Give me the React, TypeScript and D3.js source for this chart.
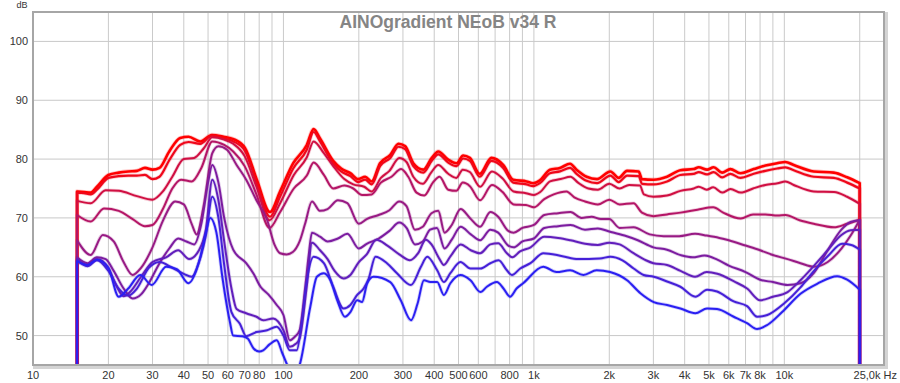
import React from "react";
import * as d3 from "d3";

const W = 900;
const H = 383;

const title = "AINOgradient NEoB v34 R";
const yUnit = "dB";
const xEndLabel = "25,0k Hz";

const yTicks = [50, 60, 70, 80, 90, 100];
const xTickFreqs = [10, 20, 30, 40, 50, 60, 70, 80, 100, 200, 300, 400, 500, 600, 800, 1000, 2000, 3000, 4000, 5000, 6000, 7000, 8000, 10000];
const xTickLabels = ["10", "20", "30", "40", "50", "60", "70", "80", "100", "200", "300", "400", "500", "600", "800", "1k", "2k", "3k", "4k", "5k", "6k", "7k", "8k", "10k"];
const xGridFreqs = [20, 30, 40, 50, 60, 70, 80, 90, 100, 200, 300, 400, 500, 600, 700, 800, 900, 1000, 2000, 3000, 4000, 5000, 6000, 7000, 8000, 9000, 10000, 20000];

const c1: [number, number][] = [[15,74.5],[16,74.4],[17,74.3],[18,75.3],[20,77.3],[22,77.7],[24,77.9],[26,78.0],[28,78.5],[30,78.2],[32,78.5],[35,81.3],[38.7,83.6],[41.8,83.8],[46.5,83.0],[51.8,84.1],[57.7,83.8],[63.2,83.4],[70.2,81.9],[78.3,76.5],[88.4,71.0],[96.9,74.5],[109.4,79.3],[123.9,82.4],[132,85.1],[140,83.5],[158,79.7],[170,78.4],[185,77.6],[199,76.6],[212,77.0],[225,76.2],[243,79.3],[267,80.7],[288,82.6],[306,82.2],[330,79.3],[362,78.2],[391,80.2],[415,81.3],[455,79.9],[491,79.3],[522,80.6],[555,80.2],[608,77.5],[677,80.2],[754,79.0],[827,76.5],[935,76.2],[994,75.9],[1057,76.4],[1159,78.2],[1271,78.5],[1394,79.2],[1480,78.2],[1623,77.0],[1787,76.6],[2020,77.9],[2180,76.8],[2355,78.0],[2620,77.9],[2703,76.6],[3009,76.5],[3402,77.0],[3845,78.1],[4346,78.3],[4550,78.6],[4915,78.2],[5223,78.6],[5642,77.7],[6088,78.3],[6676,77.6],[7547,78.3],[8405,78.9],[9359,79.3],[10102,79.5],[10904,79.0],[13108,77.9],[15757,77.7],[17818,76.9],[20000,75.9]];

const c2: [number, number][] = [[15,74.3],[16,74.2],[17,74.0],[18,74.8],[20,76.8],[22,77.1],[24,77.2],[26,77.2],[28,77.3],[30,76.6],[32,77.0],[35,79.8],[38.7,82.4],[41.8,82.9],[46.5,82.6],[51.8,84.0],[57.7,83.5],[63.2,83.0],[70.2,81.4],[78.3,75.8],[88.4,70.2],[96.9,73.6],[109.4,78.4],[123.9,81.6],[132,84.6],[140,83.0],[158,79.2],[170,77.9],[185,77.1],[199,76.1],[212,76.5],[225,75.7],[243,78.8],[267,80.2],[288,82.1],[306,81.7],[330,78.8],[362,77.7],[391,79.7],[415,80.8],[455,79.4],[491,78.8],[522,80.1],[555,79.7],[608,77.0],[677,79.7],[754,78.5],[827,76.0],[935,75.7],[994,75.4],[1057,75.9],[1159,77.6],[1271,77.9],[1394,78.5],[1480,77.5],[1623,76.3],[1787,75.9],[2020,77.2],[2180,76.1],[2355,77.2],[2620,77.1],[2703,75.8],[3009,75.7],[3402,76.2],[3845,77.3],[4346,77.5],[4550,77.8],[4915,77.4],[5223,77.8],[5642,76.9],[6088,77.5],[6676,76.8],[7547,77.5],[8405,78.0],[9359,78.4],[10102,78.6],[10904,78.1],[13108,77.0],[15757,76.8],[17818,76.0],[20000,75.0]];

const c3: [number, number][] = [[15,72.9],[17,72.5],[19.5,74.7],[22,74.6],[26,73.7],[30,73.1],[33,74.5],[36,77.0],[40,80.0],[44,80.2],[48,81.8],[52,83.7],[58,83.3],[63,82.6],[70,80.5],[78,75.3],[88,69.6],[97,72.5],[110,77.3],[124,80.3],[132,83.0],[145,81.0],[158,78.8],[175,76.6],[190,75.7],[210,75.3],[225,74.5],[245,76.8],[265,78.0],[290,80.2],[310,79.5],[330,77.0],[360,75.8],[390,77.8],[415,79.0],[455,77.5],[490,76.8],[520,78.2],[555,77.8],[610,75.3],[680,77.9],[750,76.7],[830,74.5],[930,74.2],[1000,73.9],[1060,74.4],[1160,76.2],[1280,76.6],[1400,77.0],[1500,76.0],[1650,75.0],[1800,74.8],[2000,75.8],[2200,75.0],[2400,75.6],[2650,75.5],[2750,74.0],[3000,73.6],[3400,73.8],[3850,74.6],[4350,75.0],[4550,75.3],[4900,74.8],[5200,75.2],[5650,74.3],[6100,74.9],[6700,74.3],[7500,75.0],[8400,75.6],[9400,75.9],[10100,76.2],[10900,75.6],[13100,74.5],[15800,74.4],[17800,73.6],[20000,72.4]];

const c4: [number, number][] = [[15,70.5],[17,69.4],[19.2,71.6],[22,71.2],[25,69.8],[28,68.6],[30,68.8],[33,71.5],[36,75.0],[39,76.5],[43,76.2],[47,78.5],[52,83.0],[58,82.4],[63,81.3],[70,78.8],[78,74.0],[88,68.3],[97,71.0],[110,75.0],[124,77.2],[132,79.4],[145,77.3],[158,75.0],[175,75.5],[190,75.0],[206,73.9],[225,74.0],[245,76.0],[270,77.0],[295,78.3],[315,77.0],[340,74.3],[365,73.8],[395,76.0],[420,77.0],[455,74.8],[490,74.6],[520,76.0],[555,75.4],[610,73.0],[680,75.6],[750,74.4],[830,72.3],[930,72.2],[1000,71.8],[1100,73.2],[1200,74.0],[1350,74.5],[1450,73.5],[1600,72.8],[1800,72.3],[2000,73.1],[2200,72.3],[2500,72.5],[2700,70.9],[3000,70.3],[3400,70.6],[3850,70.9],[4500,71.4],[5200,71.8],[5700,70.9],[6700,69.9],[7500,70.6],[8400,70.6],[9400,70.4],[10100,70.5],[11500,69.6],[13100,69.0],[15800,68.4],[17800,69.0],[20000,69.7]];

const c5: [number, number][] = [[15,66.2],[17,63.7],[19,67.1],[21,66.0],[23,62.5],[25,60.3],[27,61.5],[30,65.0],[33,69.5],[37,72.8],[40,72.3],[43,69.0],[45,67.2],[48,72.0],[52,81.0],[55,82.2],[59.5,81.6],[65,79.0],[71,76.5],[78,73.0],[86,69.7],[92,65.5],[97,64.0],[103,63.8],[109,64.2],[116,66.0],[122,69.0],[130,72.8],[140,71.2],[150,71.5],[165,73.0],[180,72.5],[200,69.0],[215,69.8],[240,70.5],[265,71.3],[290,72.8],[310,72.0],[335,68.0],[360,68.5],[390,70.8],[415,71.2],[440,67.5],[470,68.8],[510,71.5],[555,70.0],[610,68.5],[670,71.0],[720,70.2],[790,67.8],[830,67.5],[900,68.3],[1000,68.8],[1100,70.5],[1250,70.8],[1400,71.0],[1550,70.0],[1700,70.2],[1850,69.8],[2000,69.8],[2200,68.3],[2500,68.4],[2900,67.2],[3300,66.9],[3800,66.9],[4400,67.3],[4900,67.0],[5500,66.6],[6000,66.2],[7000,65.3],[8000,64.5],[9000,63.7],[10300,63.0],[11600,62.3],[13100,61.7],[14900,62.5],[16900,64.8],[18400,67.0],[20000,69.7]];

const c6: [number, number][] = [[15,63.3],[16.5,62.3],[18,63.3],[19.5,63.0],[21,61.0],[23,58.0],[25,56.3],[27,57.0],[29,58.9],[32,62.3],[35,64.8],[38,66.5],[41,66.0],[44,65.5],[47,69.0],[50,76.0],[52,79.0],[55,76.0],[58,70.0],[63,64.6],[71,62.3],[76,60.5],[81,58.3],[87,57.0],[94,55.2],[100,53.5],[106,49.2],[111,49.8],[116,50.9],[122,58.0],[126,63.5],[130,67.5],[140,66.8],[150,66.0],[165,66.5],[180,67.3],[200,64.8],[215,65.6],[240,66.5],[265,67.8],[290,69.2],[310,68.3],[335,65.5],[360,66.0],[385,68.0],[410,68.3],[440,64.8],[470,66.3],[510,68.5],[560,67.2],[610,66.2],[670,68.0],[720,67.5],[790,65.3],[830,65.0],[900,66.0],[1000,66.5],[1100,68.3],[1250,68.6],[1400,68.8],[1600,68.0],[1800,68.2],[2000,67.7],[2300,67.0],[2600,66.2],[3000,65.0],[3400,64.6],[3900,63.6],[4300,63.3],[4800,63.6],[5400,62.9],[6000,61.9],[7000,60.8],[8000,59.5],[9000,59.1],[10300,58.6],[11600,58.9],[13100,60.6],[14900,64.5],[16900,68.0],[18400,69.3],[20000,69.6]];

const c7: [number, number][] = [[15,63.0],[16.5,62.0],[18,63.0],[20,61.5],[21.5,58.5],[23,56.7],[24.5,57.5],[27,60.0],[30,62.5],[34,63.3],[38,64.5],[42,63.0],[46,64.5],[49,68.0],[52,76.5],[55,73.0],[58,66.0],[62,58.0],[65,54.5],[71,53.8],[78,53.2],[83,52.6],[91,52.9],[100,50.9],[106,48.1],[112,48.6],[116,49.5],[124,58.5],[130,65.8],[140,64.5],[150,63.0],[160,61.0],[174,59.7],[185,60.3],[200,62.5],[215,63.8],[235,66.3],[260,65.3],[290,63.8],[320,62.8],[345,64.0],[370,66.3],[390,65.5],[420,63.0],[437,62.0],[465,63.5],[510,65.5],[560,64.5],[610,64.0],[670,65.5],[720,65.7],[780,64.0],[820,63.3],[880,64.3],[970,65.0],[1100,66.8],[1250,66.6],[1400,66.2],[1600,65.6],[1800,65.4],[2000,65.8],[2200,65.5],[2500,64.0],[2800,62.8],[3000,62.3],[3400,62.0],[3850,61.0],[4400,60.0],[4900,60.8],[5400,60.5],[6300,59.2],[7100,58.0],[8000,56.0],[9000,56.6],[10300,57.4],[11600,59.4],[13100,61.8],[14900,64.5],[16900,67.1],[18400,67.9],[20000,68.0]];

const c8: [number, number][] = [[15,62.8],[16.5,61.8],[18,62.8],[20,61.0],[22,58.0],[24,56.8],[26,58.0],[29,61.5],[32,62.5],[36,61.5],[40,60.5],[43,60.0],[46,62.5],[49,67.0],[52,73.6],[55,70.0],[58,62.0],[62,54.0],[67,52.0],[71,49.9],[78,50.6],[86,50.9],[94,51.5],[100,50.0],[106,47.5],[113,47.5],[118,52.0],[124,59.4],[132,63.4],[145,62.3],[158,58.3],[174,54.6],[185,55.2],[197,56.9],[209,58.0],[219,59.7],[233,63.4],[259,62.3],[284,60.6],[323,58.6],[354,61.7],[375,63.4],[411,61.1],[437,59.1],[464,60.6],[509,62.5],[558,61.4],[612,61.4],[670,62.3],[723,62.8],[780,61.1],[817,60.3],[882,61.4],[969,62.3],[1090,64.0],[1300,63.5],[1500,63.0],[1834,63.1],[2020,63.4],[2257,62.8],[2502,61.4],[2743,60.3],[3009,60.0],[3402,59.2],[3845,58.3],[4414,56.6],[4915,57.8],[5389,57.5],[6279,55.8],[7100,55.0],[7786,53.2],[8550,53.5],[10000,55.5],[11600,58.2],[13000,60.8],[15000,63.6],[17000,65.6],[18500,65.4],[20000,64.6]];

const c9: [number, number][] = [[15,62.6],[16.5,62.0],[18,62.9],[20,61.5],[22,56.6],[24,58.0],[26.8,60.3],[29.8,58.6],[34,61.7],[37.5,61.3],[41.7,58.9],[46.4,63.1],[49,67.5],[51,70.0],[54,67.5],[57,60.0],[61,52.5],[63,50.0],[68.5,49.9],[72,49.5],[76,47.8],[80,47.3],[83,47.5],[88,48.5],[94,49.2],[99,47.0],[105,44.5],[110,43.5],[116,45.0],[128,54.9],[136,60.0],[145,60.6],[154,59.4],[164,56.0],[176,53.2],[185,54.0],[197,56.0],[206,55.7],[216,58.9],[229,60.0],[267,59.1],[294,56.0],[323,52.6],[343,55.4],[364,59.4],[386,59.1],[411,59.1],[437,56.9],[464,58.9],[509,60.3],[558,59.4],[612,57.4],[649,58.3],[712,59.1],[756,58.0],[803,56.6],[853,58.0],[906,58.9],[1090,61.7],[1231,60.8],[1394,61.1],[1576,60.3],[1781,61.1],[2015,60.8],[2355,59.4],[2662,57.2],[3009,55.7],[3402,55.2],[3845,54.6],[4414,53.8],[4915,54.6],[5389,54.5],[6279,53.2],[7100,52.1],[7786,51.1],[8550,51.8],[9800,54.0],[11600,57.1],[13520,58.8],[16255,60.1],[17818,59.5],[20000,57.8]];

// drawn in this order: reddest first, bluest last (on top)
const seriesData = [c1, c2, c3, c4, c5, c6, c7, c8, c9];
const seriesColors = ["#ff0000", "#ef071a", "#d00f42", "#b41566", "#981a84", "#7c1ca0", "#611ebc", "#4520d8", "#2a1ff2"];
const seriesWidths = [2.6, 2.2, 2, 2, 2, 2, 2, 2, 2];

export default function App() {
  const left = 33, right = 884, top = 12, bottom = 365;
  const x = d3.scaleLog().domain([10, 25000]).range([left, right]);
  const y = d3.scaleLinear().domain([45, 105]).range([bottom, top]);
  const line = d3
    .line<[number, number]>()
    .x((d) => x(d[0]))
    .y((d) => y(d[1]))
    .curve(d3.curveMonotoneX);

  const buildPath = (pts: [number, number][]) => {
    const first = pts[0];
    const last = pts[pts.length - 1];
    const core = line(pts) || "";
    return `M${x(first[0])},${bottom + 5}L` + core.slice(1) + `L${x(last[0])},${bottom + 5}`;
  };

  const font = "Arial, 'Liberation Sans', Helvetica, sans-serif";

  return (
    <svg width={W} height={H} style={{ position: "absolute", left: 0, top: 0, background: "#fff" }} fontFamily={font}>
      <defs>
        <clipPath id="plotclip">
          <rect x={left} y={top} width={right - left} height={bottom - top} />
        </clipPath>
      </defs>
      <rect x={0} y={0} width={W} height={H} fill="#ffffff" />
      <rect x={left + 1.5} y={top + 1.5} width={right - left + 1} height={bottom - top + 1} fill="none" stroke="#d4d4d4" strokeWidth={3} />
      <rect x={left} y={top} width={right - left} height={bottom - top} fill="#fff" />
      {yTicks.map((v) => (
        <line key={"gy" + v} x1={left} x2={right} y1={y(v)} y2={y(v)} stroke="#c8c8c8" strokeWidth={1} />
      ))}
      {xGridFreqs.map((f) => (
        <line key={"gx" + f} x1={x(f)} x2={x(f)} y1={top} y2={bottom} stroke="#cacaca" strokeWidth={1} />
      ))}
      <text x={448} y={28} textAnchor="middle" fontSize={17.5} fontWeight="bold" fill="#858585">
        {title}
      </text>
      <g clipPath="url(#plotclip)">
        {seriesData.map((s, i) => (
          <path key={"h" + i} d={buildPath(s)} fill="none" stroke={seriesColors[i]} strokeOpacity={0.22} strokeWidth={seriesWidths[i] + 1.6} strokeLinejoin="round" />
        ))}
        {seriesData.map((s, i) => (
          <path key={"s" + i} d={buildPath(s)} fill="none" stroke={seriesColors[i]} strokeWidth={seriesWidths[i]} strokeLinejoin="round" />
        ))}
      </g>
      <rect x={left} y={top} width={right - left} height={bottom - top} fill="none" stroke="#a6a6a6" strokeWidth={2} />
      {yTicks.map((v) => (
        <text key={"ty" + v} x={28} y={y(v) + 4} textAnchor="end" fontSize={11} fill="#333">
          {v}
        </text>
      ))}
      <text x={22} y={8} textAnchor="middle" fontSize={9} fill="#333">
        {yUnit}
      </text>
      {xTickFreqs.map((f, i) => (
        <text key={"tx" + f} x={x(f)} y={379} textAnchor="middle" fontSize={11} fill="#333">
          {xTickLabels[i]}
        </text>
      ))}
      <text x={897} y={379} textAnchor="end" fontSize={11} fill="#333">
        {xEndLabel}
      </text>
    </svg>
  );
}
